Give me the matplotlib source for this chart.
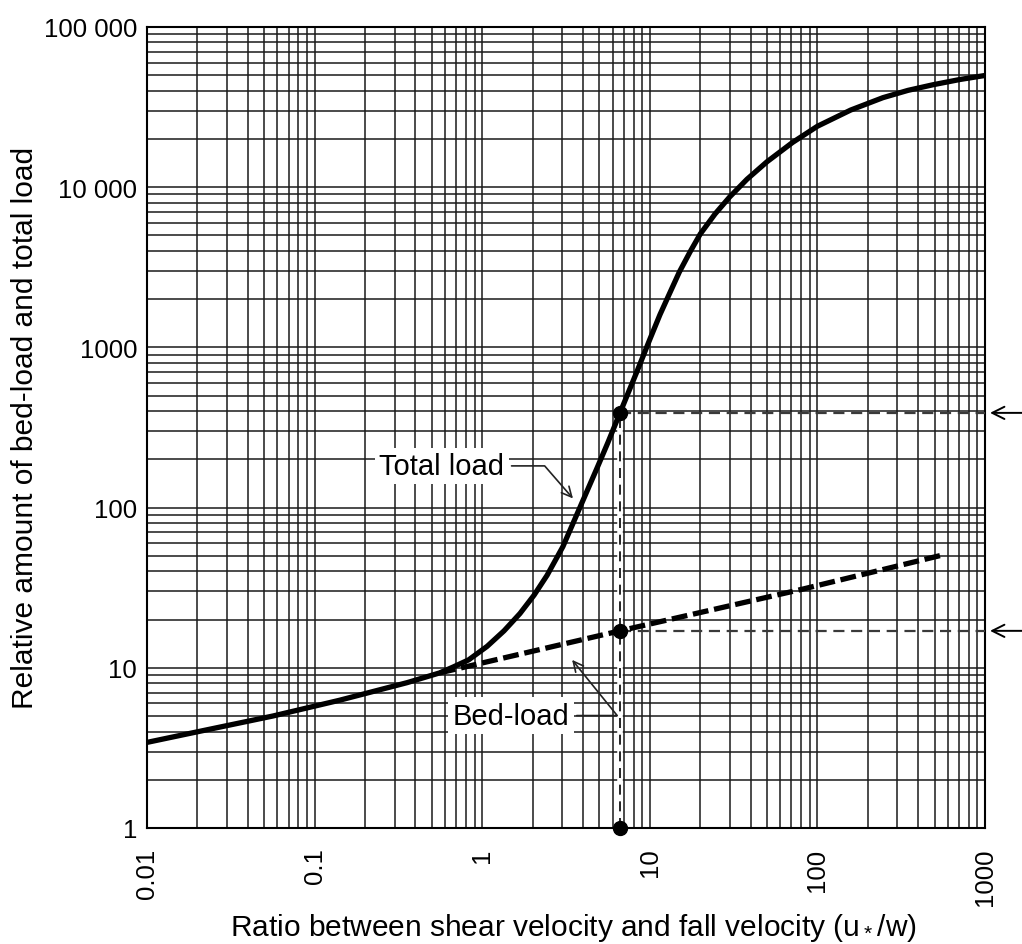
import matplotlib
matplotlib.use('Agg')
import matplotlib.pyplot as plt
from matplotlib.ticker import LogLocator, FixedLocator, FixedFormatter, NullFormatter

plt.rcParams['font.family'] = ['Liberation Sans', 'DejaVu Sans']

total_x = [0.01, 0.0228, 0.0565, 0.141, 0.356, 0.56, 0.67, 0.83, 1.07, 1.35,
           1.68, 2.04, 2.44, 3.03, 3.68, 4.84, 5.62, 6.64, 8.4, 10,
           11.5, 13.2, 15, 17.4, 20, 24.5, 30, 38, 50, 71,
           100, 158, 246, 347, 490, 708, 1000]
total_y = [3.42, 4.1, 5.0, 6.27, 8.07, 9.3, 10.1, 11.2, 13.6, 17,
           21.8, 28.4, 37.8, 57, 91, 176, 254, 390, 710, 1120,
           1600, 2200, 2950, 3950, 5100, 6800, 8700, 11200, 14400, 19000,
           24000, 30300, 36200, 40200, 43600, 47000, 49800]

# bed-load branch, splitting off the total load curve
bed_x = [0.56, 6.64, 82, 577]
bed_y = [9.3, 17, 31, 51]

# worked example: one value of u*/w and the two loads it gives
ratio_pick = 6.64
total_pick = 390
bed_pick = 17

x_ticks = [0.01, 0.1, 1, 10, 100, 1000]
x_labels = ['0.01', '0.1', '1', '10', '100', '1000']
y_ticks = [1, 10, 100, 1000, 10000, 100000]
y_labels = ['1', '10', '100', '1000', '10 000', '100 000']

TICKSIZE = 18.5
LABELSIZE = 21.5

fig = plt.figure(figsize=(10.22, 9.45), dpi=100)
ax = fig.add_axes([0.1438, 0.1228, 0.8200, 0.8476])
ax.set_xscale('log')
ax.set_yscale('log')
ax.set_xlim(0.01, 1000)
ax.set_ylim(1, 100000)

ax.xaxis.set_major_locator(FixedLocator(x_ticks))
ax.xaxis.set_major_formatter(FixedFormatter(x_labels))
ax.yaxis.set_major_locator(FixedLocator(y_ticks))
ax.yaxis.set_major_formatter(FixedFormatter(y_labels))
for axis in (ax.xaxis, ax.yaxis):
    axis.set_minor_locator(LogLocator(base=10, subs=range(2, 10), numticks=20))
    axis.set_minor_formatter(NullFormatter())

ax.grid(which='both', color='#1a1a1a', lw=1.1)
ax.tick_params(which='both', length=0)
ax.tick_params(axis='x', labelsize=TICKSIZE, labelrotation=90, pad=14)
ax.tick_params(axis='y', labelsize=TICKSIZE, pad=7)
for s in ax.spines.values():
    s.set_linewidth(1.5)

# curves
ax.plot(total_x, total_y, color='k', lw=3.8, solid_joinstyle='round',
        solid_capstyle='butt', zorder=4)
ax.plot(bed_x, bed_y, color='k', lw=3.8, ls=(0, (3, 1.1)), zorder=4)

# reading lines for the example
ax.plot([ratio_pick, ratio_pick], [1, total_pick], color='white', lw=4, zorder=3)
ax.plot([ratio_pick, ratio_pick], [1, total_pick], color='k', lw=1.2,
        ls=(0, (6, 4)), zorder=3.5)
for yv in (total_pick, bed_pick):
    ax.plot([ratio_pick, 1000], [yv, yv], color='#3a3a3a', lw=1.6,
            ls=(0, (5, 3)), zorder=3.5)
    ax.annotate('', xy=(1.006, yv), xycoords=('axes fraction', 'data'),
                xytext=(1.05, yv), textcoords=('axes fraction', 'data'),
                arrowprops=dict(arrowstyle='->', color='k', lw=1.4,
                                mutation_scale=22, shrinkA=0, shrinkB=0),
                annotation_clip=False)
ax.plot([ratio_pick] * 3, [total_pick, bed_pick, 1], 'o', color='k', ms=10,
        clip_on=False, zorder=6)

# curve labels
box = dict(boxstyle='square,pad=0.15', fc='white', ec='none')
ax.annotate('Total load', xy=(3.48, 114), xytext=(0.575, 182),
            fontsize=LABELSIZE - 0.5, ha='center', va='center', bbox=box, zorder=5,
            arrowprops=dict(arrowstyle='->', color='#222', lw=1.2, mutation_scale=18,
                            connectionstyle='angle,angleA=0,angleB=131,rad=0',
                            shrinkA=2, shrinkB=0))
ax.annotate('Bed-load', xy=(3.44, 11.2), xytext=(1.49, 5.03),
            fontsize=LABELSIZE - 0.5, ha='center', va='center', bbox=box, zorder=5,
            arrowprops=dict(arrowstyle='->', color='#222', lw=1.2, mutation_scale=18,
                            connectionstyle='angle,angleA=0,angleB=129,rad=0',
                            shrinkA=2, shrinkB=0))

fig.text(0.561, 0.009, r'Ratio between shear velocity and fall velocity (u$\mathregular{_*}$/w)',
         fontsize=LABELSIZE, ha='center', va='baseline')
fig.text(0.024, 0.547, 'Relative amount of bed-load and total load',
         fontsize=LABELSIZE, rotation=90, ha='center', va='center')

fig.savefig('out.png', dpi=100)
